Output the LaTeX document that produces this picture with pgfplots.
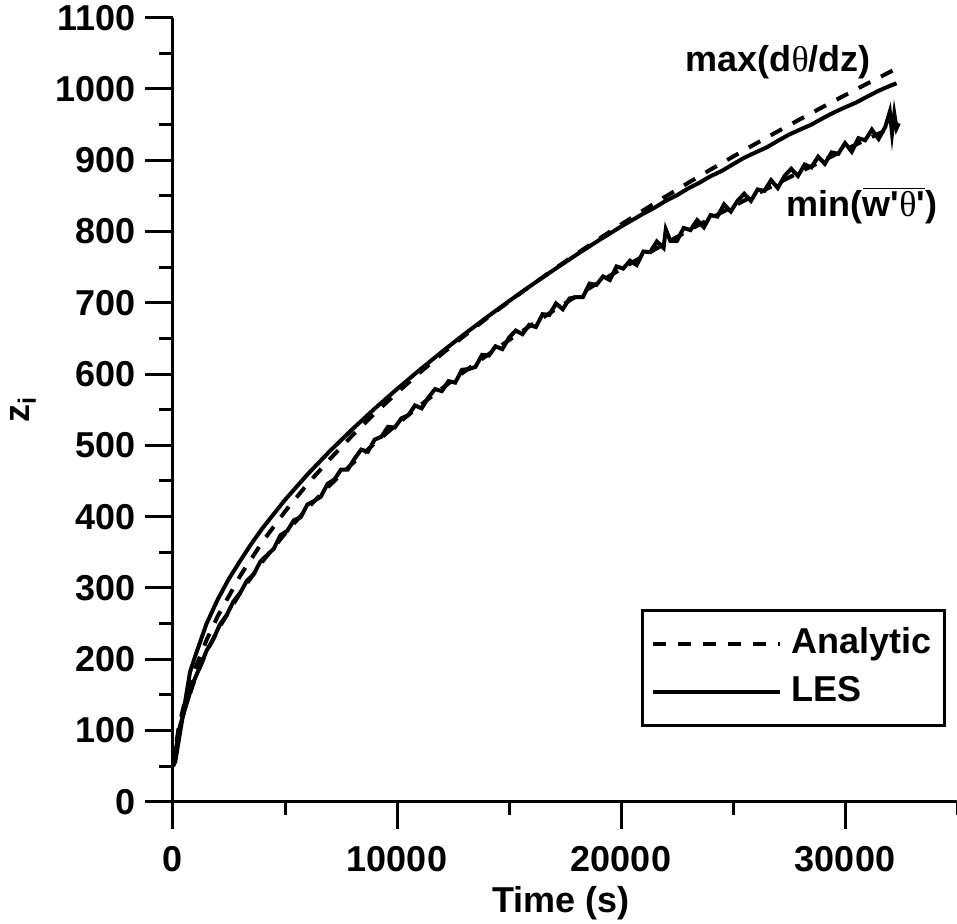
\documentclass[border=0pt]{standalone}
\usepackage{pgfplots}
\pgfplotsset{compat=1.18}
\usepackage{fontspec}
\setmainfont{Liberation Sans}
\newfontfamily\thetafont{Liberation Serif}
\newcommand{\thb}{{\thetafont\mdseries θ}}
\newcommand{\lf}{\fontsize{18}{21}\selectfont\bfseries}
\begin{document}
\begin{tikzpicture}
\begin{axis}[name=ax, scale only axis, width=392pt, height=392pt,
  xmin=0, xmax=35000, ymin=0, ymax=1100,
  axis x line*=bottom, axis y line*=left,
  axis line style={line width=1.5pt, -},
  xtick={0,10000,20000,30000}, minor xtick={5000,15000,25000,35000},
  ytick={0,100,...,1100}, minor ytick={50,150,...,1050},
  tick align=outside, major tick length=13.75pt, minor tick length=6.75pt,
  every tick/.append style={line width=1.5pt, black},
  scaled x ticks=false, scaled y ticks=false,
  /pgf/number format/assume math mode=true,
  /pgf/number format/1000 sep={},
  tick label style={font=\lf},
  xticklabel style={yshift=-5pt},
  yticklabel style={xshift=-1.5pt},
  label style={font=\lf},
  xlabel={Time (s)}, ylabel={z\textsubscript{i}},
  xlabel style={at={(axis description cs:0.495,-0.130)}, anchor=center},
  ylabel style={at={(axis description cs:-0.191,0.5)}, anchor=center},
  legend cell align=left,
  legend image code/.code={\draw[#1] (0pt,0pt) -- (63.5pt,0pt);},
  legend style={at={(0.986,0.2458)}, anchor=north east, draw=black, line width=1.5pt,
    font=\lf, inner xsep=4.5pt, inner ysep=6.5pt, row sep=3.5pt, column sep=2.5pt,
    nodes={inner sep=2pt, text height=13pt, text depth=3.5pt}},
]
% Analytic, max(dtheta/dz)
\addplot[black, line width=2pt, dash pattern=on 6.5pt off 6pt] coordinates {
(0,50) (250,103.3) (500,137.2) (1000,187.5) (1500,226.9) (2000,260.5) (3000,317.0)
(4000,364.9) (5000,407.2) (6000,445.6) (7000,480.5) (8000,513.7) (9000,544.6) (10000,573.8)
(11000,601.6) (12000,628.1) (13000,653.6) (14000,678.1) (15000,701.8) (16000,724.7)
(17000,746.9) (18000,768.5) (19000,789.4) (20000,809.9) (21000,829.8) (22000,849.3)
(23000,868.3) (24000,886.9) (25000,905.1) (26000,923.0) (27000,940.5) (28000,957.7)
(29000,974.6) (30000,991.3) (31000,1007.7) (32000,1023.8) (32400,1030.0)
};
\addlegendentry{Analytic}
% LES, max(dtheta/dz)
\addplot[black, line width=2pt] coordinates {
(0,50) (100,56) (760,182) (1000,205) (1500,250) (2000,284) (2500,313) (3000,338)
(3500,362) (4000,384) (5000,423.5) (6000,459.1) (7000,491.8) (8000,522.4) (9000,551.4) (10000,578.9)
(11000,605.5) (12000,631.1) (13000,655.8) (14000,679.5) (15000,702.4) (16000,724.7)
(17000,746.2) (18000,767.2) (19000,787.5) (20000,806.9) (21000,825.1) (21500,833.5)
(22000,843.0) (22500,851.0) (23000,860.5) (23500,868.5) (24000,877.6) (24500,885.0)
(25000,894.4) (25500,903.5) (26000,910.9) (26500,918.0) (27000,927.2) (27500,936.0)
(28000,943.1) (28500,950.0) (29000,958.8) (29500,967.0) (30000,974.2) (30500,981.0)
(31000,989.4) (31500,997.5) (32000,1004.3) (32300,1008.0)
};
\addlegendentry{LES}
% Analytic, min(w'theta')
\addplot[black, line width=2pt, dash pattern=on 6.5pt off 6pt, forget plot] coordinates {
(0,50) (250,97.2) (500,128.1) (1000,174.1) (1500,210.2) (2000,241.0) (3000,293.1)
(4000,337.2) (5000,376.2) (6000,411.5) (7000,444.0) (8000,474.2) (9000,502.7) (10000,529.6)
(11000,555.3) (12000,579.7) (13000,603.3) (14000,625.9) (15000,647.7) (16000,668.8)
(17000,689.3) (18000,709.2) (19000,728.5) (20000,747.3) (21000,765.7) (22000,783.6)
(23000,801.2) (24000,818.4) (25000,835.2) (26000,851.6) (27000,867.8) (28000,883.7)
(29000,899.3) (30000,914.6) (31000,929.8) (32000,944.6) (32400,950.4)
};
% LES, min(w'theta')
\addplot[black, line width=2pt, forget plot] coordinates {
(0,50) (300,105) (600,137) (900,167) (1200,189) (1500,212) (1800,228) (2100,249)
(2400,262) (2700,281) (3000,293) (3300,310) (3600,319) (3900,337) (4200,346) (4500,355)
(4800,374) (5100,380) (5400,395) (5700,399) (6000,417) (6300,422) (6600,428) (6900,446)
(7200,452) (7500,466) (7800,466) (8100,481) (8400,494) (8700,491) (9000,508) (9300,512)
(9600,526) (9900,525) (10200,538) (10500,542) (10800,556) (11100,552) (11400,567)
(11700,579) (12000,576) (12300,590) (12600,588) (12900,606) (13200,607) (13500,610)
(13800,627) (14100,626) (14400,639) (14700,635) (15000,651) (15300,661) (15600,656)
(15900,669) (16200,666) (16500,684) (16800,683) (17100,699) (17400,691) (17700,706)
(18000,708) (18300,708) (18600,727) (18900,725) (19200,737) (19500,732) (19800,751)
(20100,748) (20400,759) (20700,753) (21000,772) (21300,771) (21600,786) (21900,777)
(22000,803) (22200,787) (22500,787) (22800,805) (23100,802) (23400,816) (23700,806)
(24000,823) (24300,821) (24600,838) (24900,828) (25200,843) (25500,853) (25800,843)
(26100,859) (26400,857) (26700,872) (27000,861) (27300,878) (27600,888) (27900,878)
(28200,894) (28500,890) (28800,905) (29100,895) (29400,911) (29700,909) (30000,924)
(30300,912) (30600,931) (30900,928) (31200,943) (31500,930) (31800,947) (32000,968)
(32100,938) (32200,965) (32300,945) (32400,952)
};
\node[font=\lf] at (axis cs:27017,1037.6) {max(d\thb/dz)};
\node[font=\lf] at (axis cs:30762,837) {min($\overline{\mbox{w\textquotesingle\thb\textquotesingle}}$)};
\end{axis}
\pgfresetboundingbox
\path[use as bounding box] ([shift={(-86.5pt,-60.65pt)}]ax.south west) rectangle ([shift={(0pt,8.85pt)}]ax.north east);
\end{tikzpicture}
\end{document}
